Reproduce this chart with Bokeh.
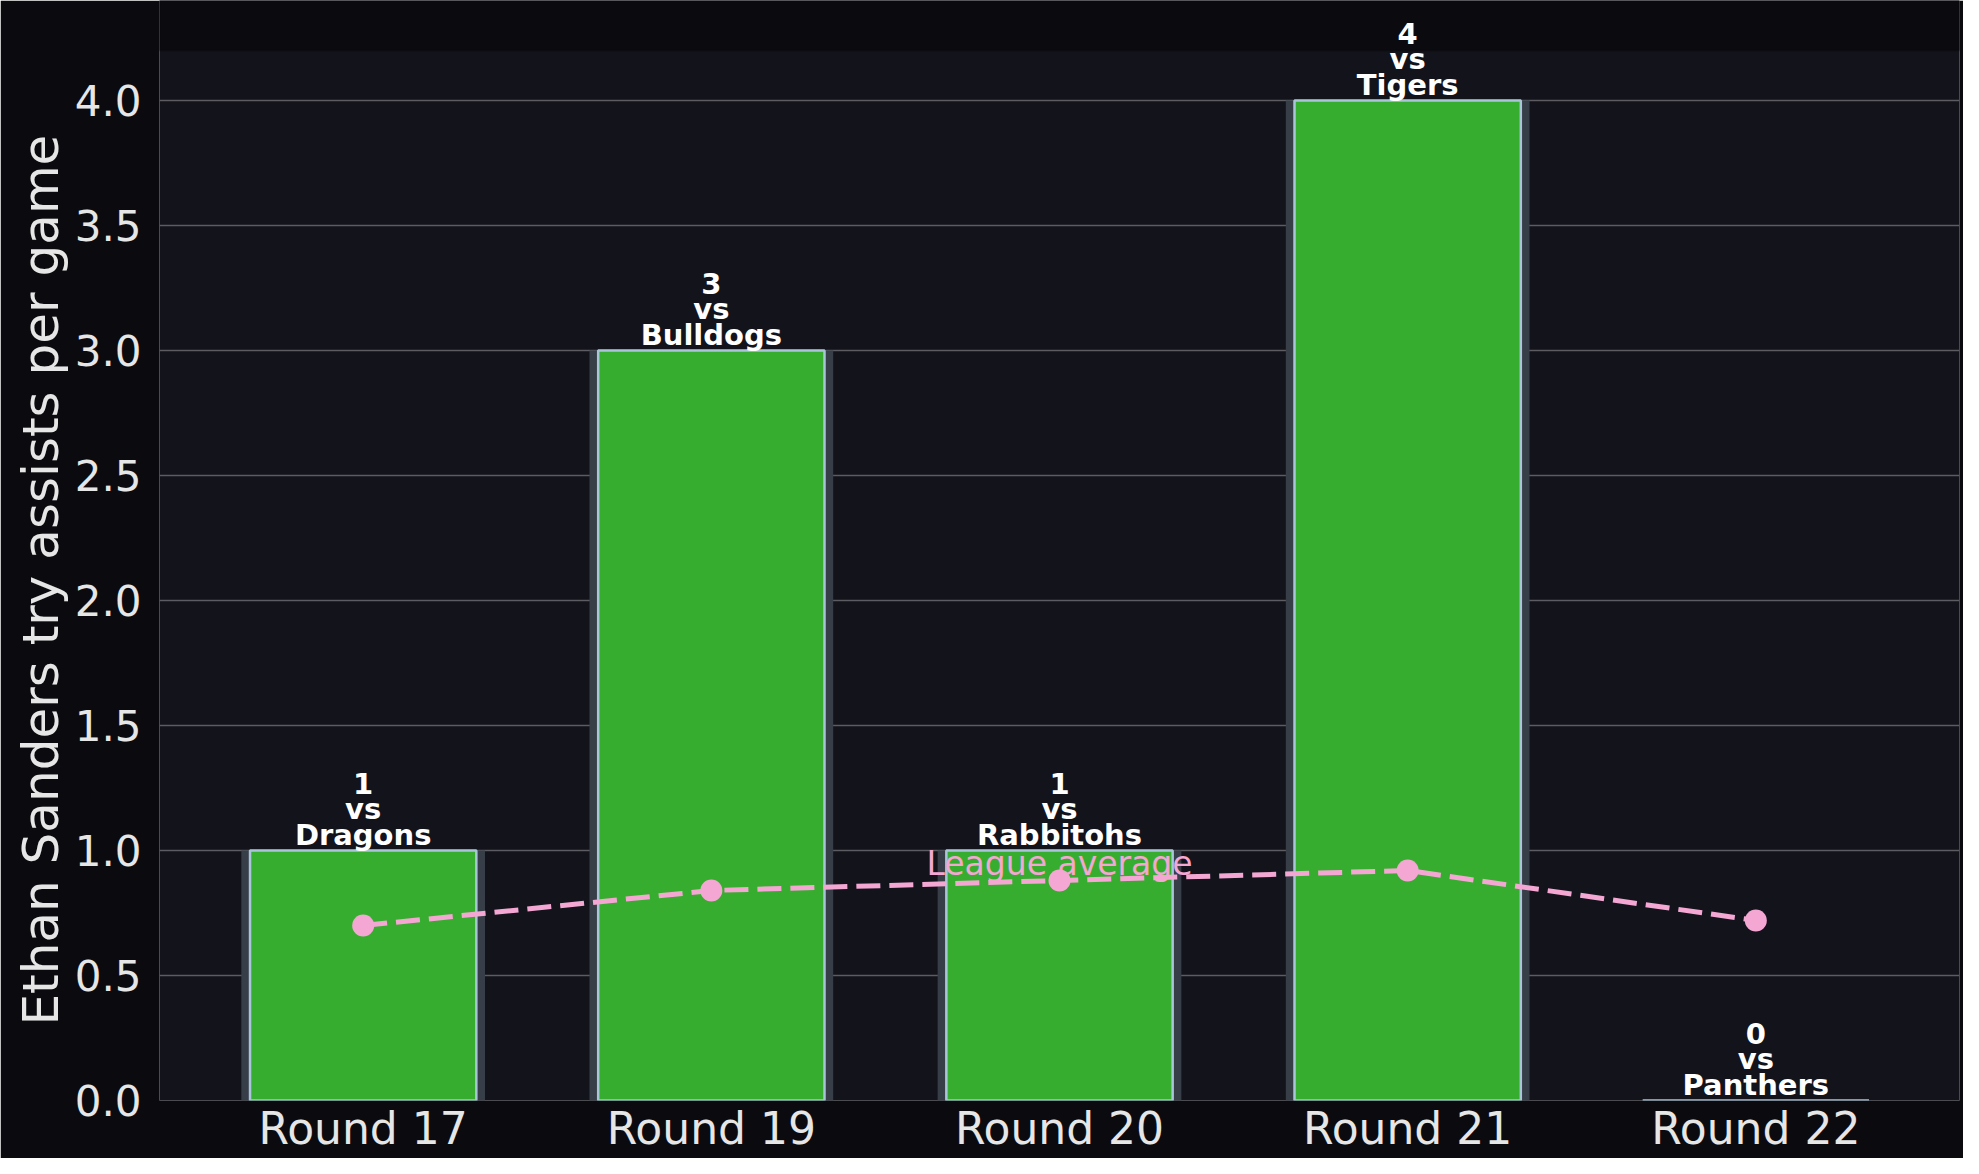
from bokeh.plotting import figure
from bokeh.models import (ColumnDataSource, Range1d, FixedTicker, NumeralTickFormatter,
                          LabelSet, BoxAnnotation, Title)
from bokeh.core.properties import value
from bokeh.embed import file_html
from bokeh.resources import INLINE

rounds = ["Round 17", "Round 19", "Round 20", "Round 21", "Round 22"]
opponents = ["Dragons", "Bulldogs", "Rabbitohs", "Tigers", "Panthers"]
try_assists = [1, 3, 1, 4, 0]
league_avg = [0.70, 0.84, 0.88, 0.92, 0.72]

xs = list(range(len(rounds)))
y_top = 4.2

source = ColumnDataSource(data=dict(
    x=xs,
    value=try_assists,
    avg=league_avg,
    num=[str(v) for v in try_assists],
    vs=["vs"] * len(rounds),
    team=opponents,
))

# the frame runs up to the figure top so the labels above the bars are not clipped;
# the band above y_top is painted in the border colour
p = figure(width=1963, height=1158, output_backend="svg", toolbar_location=None,
           x_range=Range1d(-0.585, 4.585), y_range=Range1d(0, 4.4),
           min_border_left=159, min_border_right=4, min_border_top=0, min_border_bottom=58)

p.background_fill_color = "#12131b"
p.border_fill_color = "#0b0b0f"
p.outline_line_color = None

# bars with a darker halo behind
p.vbar(x="x", top="value", width=0.70, source=source, fill_color="#373e48", line_color=None)
p.vbar(x="x", top="value", width=0.65, source=source, fill_color="#37ad2f",
       line_color="#a9c6d9", line_width=2.5)

# league average
p.line(x="x", y="avg", source=source, line_color="#f4a7d3", line_width=5, line_dash="24 9")
p.scatter(x="x", y="avg", source=source, size=22, fill_color="#f4a7d3", line_color=None)
p.text(x=[xs[2]], y=[league_avg[2]], text=["League average"], text_align="center",
       text_baseline="alphabetic", y_offset=-17, text_color="#f4a7d3",
       text_font_size="33px", text_font=value("DejaVu Sans"))

p.add_layout(BoxAnnotation(bottom=y_top, fill_color="#0b0b0f", fill_alpha=1.0,
                           line_color="#0b0b0f", line_width=2))

# labels above bars
for col, off in (("team", 6), ("vs", 32), ("num", 57)):
    p.add_layout(LabelSet(x="x", y="value", text=col, source=source, text_align="center",
                          text_baseline="alphabetic", y_offset=off, text_color="white",
                          text_font_size="29px", text_font_style="bold",
                          text_font=value("DejaVu Sans")))

p.xgrid.grid_line_color = None
p.ygrid.grid_line_color = "#5c5c62"
p.ygrid.grid_line_width = 1.3

p.xaxis.ticker = FixedTicker(ticks=xs)
p.xaxis.major_label_overrides = {i: r for i, r in zip(xs, rounds)}
p.yaxis.ticker = FixedTicker(ticks=[0, 0.5, 1.0, 1.5, 2.0, 2.5, 3.0, 3.5, 4.0])
p.yaxis.formatter = NumeralTickFormatter(format="0.0")

for ax in (p.xaxis[0], p.yaxis[0]):
    ax.axis_line_color = None
    ax.major_tick_line_color = None
    ax.minor_tick_line_color = None
    ax.major_label_text_color = "#e6e6e6"
    ax.major_label_text_font = "DejaVu Sans"
p.xaxis.major_label_text_font_size = "44px"
p.yaxis.major_label_text_font_size = "42px"
p.xaxis.major_label_standoff = -4
p.yaxis.major_label_standoff = 12

# y label as a side title, started from the frame bottom so it centres on the visible area
p.add_layout(Title(text="Ethan Sanders try assists per game", align="left", offset=75,
                   text_color="#e6e6e6", text_font="DejaVu Sans", text_font_size="50px",
                   text_font_style="normal", standoff=4), "left")

open("out.html", "w").write(file_html(p, INLINE))
